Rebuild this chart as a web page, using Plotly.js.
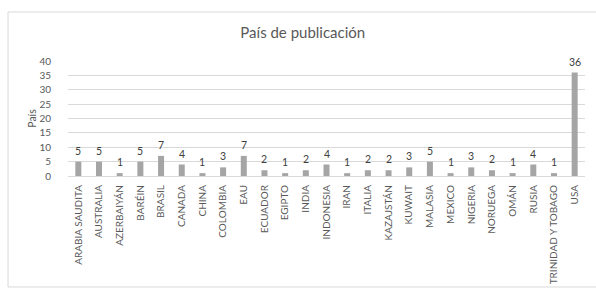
<!DOCTYPE html>
<html>
<head>
<meta charset="utf-8">
<script src="https://cdn.plot.ly/plotly-3.0.1.min.js"></script>
<style>html,body{margin:0;padding:0;background:#fff;}</style>
</head>
<body>
<div id="chart" style="width:596px;height:289px;"></div>
<script>
var categories = ["ARABIA SAUDITA","AUSTRALIA","AZERBAIYÁN","BARÉIN","BRASIL","CANADA","CHINA","COLOMBIA","EAU","ECUADOR","EGIPTO","INDIA","INDONESIA","IRAN","ITALIA","KAZAJSTÁN","KUWAIT","MALASIA","MEXICO","NIGERIA","NORUEGA","OMÁN","RUSIA","TRINIDAD Y TOBAGO","USA"];
var values = [5,5,1,5,7,4,1,3,7,2,1,2,4,1,2,2,3,5,1,3,2,1,4,1,36];
var yTicks = [0,5,10,15,20,25,30,35,40];

var font = "Lato, 'Open Sans', sans-serif";
var trace = {
  type: "bar",
  x: categories,
  y: values,
  marker: {color: "#a5a5a5"},
  hoverinfo: "none"
};
var labels = categories.map(function (c, i) {
  return {
    x: c, y: values[i], xref: "x", yref: "y",
    text: String(values[i]), showarrow: false,
    yanchor: "bottom", yshift: 3,
    font: {size: 10.5, color: "#404040", family: font}
  };
});
var layout = {
  width: 596, height: 289,
  margin: {l: 68, r: 11, t: 61, b: 113},
  paper_bgcolor: "#fff", plot_bgcolor: "#fff",
  font: {family: font, color: "#595959"},
  showlegend: false,
  bargap: 0.71,
  title: {text: "País de publicación", font: {size: 15, color: "#595959", family: font}, x: 0.508, xanchor: "center", y: 0.886, yanchor: "middle"},
  xaxis: {
    type: "category",
    tickangle: -90,
    tickfont: {size: 10, color: "#595959", family: font},
    showgrid: false,
    showline: true, linecolor: "#d9d9d9", linewidth: 1,
    ticks: "outside", ticklen: 4, tickcolor: "rgba(0,0,0,0)",
    automargin: false
  },
  yaxis: {
    range: [0, 40],
    tickvals: yTicks,
    ticktext: yTicks.map(String),
    tickfont: {size: 10, color: "#595959", family: font},
    showgrid: true, gridcolor: "#d9d9d9", gridwidth: 1,
    zeroline: false, showline: false,
    ticks: "outside", ticklen: 14, tickcolor: "rgba(0,0,0,0)",
    title: {text: "País", font: {size: 10.5, color: "#595959", family: font}, standoff: 0},
    automargin: false
  },
  annotations: labels,
  shapes: [{
    type: "rect", xref: "paper", yref: "paper",
    x0: -0.116, x1: 1.1, y0: -0.965, y1: 1.426,
    line: {color: "#d9d9d9", width: 1}, fillcolor: "rgba(0,0,0,0)", layer: "below"
  }]
};
Plotly.newPlot("chart", [trace], layout, {staticPlot: true, displayModeBar: false});
</script>
</body>
</html>
